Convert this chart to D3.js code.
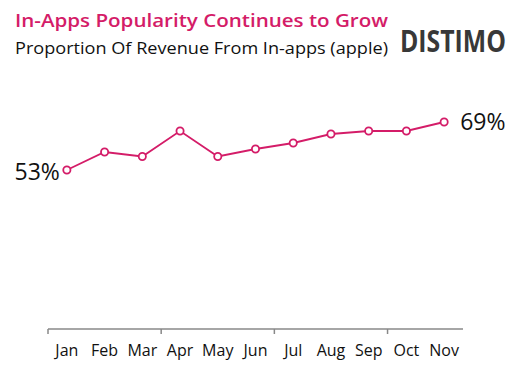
<!DOCTYPE html>
<html>
<head>
<meta charset="utf-8">
<script src="https://cdn.jsdelivr.net/npm/d3@7"></script>
<style>
  body { margin: 0; background: #fff; }
  text { font-family: "Open Sans", "DejaVu Sans", sans-serif; }
</style>
</head>
<body>
<div id="chart"></div>
<script>
// chart data
var months = ["Jan", "Feb", "Mar", "Apr", "May", "Jun", "Jul", "Aug", "Sep", "Oct", "Nov"];
var share = [53, 59, 57.5, 66, 57.5, 60, 62, 65, 66, 66, 69];
var titleText = "In-Apps Popularity Continues to Grow";
var subtitleText = "Proportion Of Revenue From In-apps (apple)";

var width = 520,
   height = 371,
   pink = "#d41c68";

var svg = d3.select("#chart").append("svg")
   .attr("width", width)
   .attr("height", height);

var x = d3.scaleBand()
   .domain(months)
   .range([48, 463]);

var y = d3.scaleLinear()
   .domain([0, 100])
   .range([329, 29]);

// header
svg.append("text")
   .attr("x", 15).attr("y", 27)
   .attr("font-size", 18.5)
   .attr("font-weight", 600)
   .attr("textLength", 373)
   .attr("lengthAdjust", "spacingAndGlyphs")
   .attr("fill", pink)
   .text(titleText);

svg.append("text")
   .attr("x", 15).attr("y", 54)
   .attr("font-size", 16.5)
   .attr("textLength", 373)
   .attr("lengthAdjust", "spacingAndGlyphs")
   .attr("fill", "#111")
   .text(subtitleText);

svg.append("text")
   .attr("transform", "translate(400,52) scale(0.8,1)")
   .attr("font-family", "DejaVu Sans Condensed, DejaVu Sans, sans-serif")
   .attr("font-weight", "bold")
   .attr("font-size", 31)
   .attr("fill", "#383838")
   .text("DISTIMO");

// x axis: ticks every 3 months
var axis = svg.append("g").attr("transform", "translate(0,329)");
axis.append("line")
   .attr("x1", x.range()[0]).attr("x2", x.range()[1])
   .attr("stroke", "#888").attr("stroke-width", 1.5);
axis.selectAll(".tick")
   .data(months.filter(function(d, i) { return i % 3 === 0; }))
   .enter().append("line")
   .attr("x1", function(d) { return x(d); })
   .attr("x2", function(d) { return x(d); })
   .attr("y1", 0).attr("y2", 5)
   .attr("stroke", "#888").attr("stroke-width", 1.5);
axis.selectAll(".lbl")
   .data(months)
   .enter().append("text")
   .attr("x", function(d) { return x(d) + x.bandwidth() / 2; })
   .attr("y", 27)
   .attr("text-anchor", "middle")
   .attr("font-family", "DejaVu Sans, sans-serif")
   .attr("font-size", 16)
   .attr("fill", "#111")
   .text(function(d) { return d; });

// line + markers
var line = d3.line()
   .x(function(d, i) { return x(months[i]) + x.bandwidth() / 2; })
   .y(function(d) { return y(d); });

svg.append("path")
   .datum(share)
   .attr("d", line)
   .attr("fill", "none")
   .attr("stroke", pink)
   .attr("stroke-width", 1.8);

svg.selectAll(".pt")
   .data(share)
   .enter().append("circle")
   .attr("cx", function(d, i) { return x(months[i]) + x.bandwidth() / 2; })
   .attr("cy", function(d) { return y(d); })
   .attr("r", 3.6)
   .attr("fill", "#fff")
   .attr("stroke", pink)
   .attr("stroke-width", 1.8);

// end labels
var last = share.length - 1;
svg.append("text")
   .attr("x", x(months[0]) + x.bandwidth() / 2 - 7)
   .attr("y", y(share[0]) + 10)
   .attr("text-anchor", "end")
   .attr("font-size", 23)
   .attr("fill", "#111")
   .text(share[0] + "%");
svg.append("text")
   .attr("x", x(months[last]) + x.bandwidth() / 2 + 16)
   .attr("y", y(share[last]) + 8)
   .attr("font-size", 23)
   .attr("fill", "#111")
   .text(share[last] + "%");
</script>
</body>
</html>
